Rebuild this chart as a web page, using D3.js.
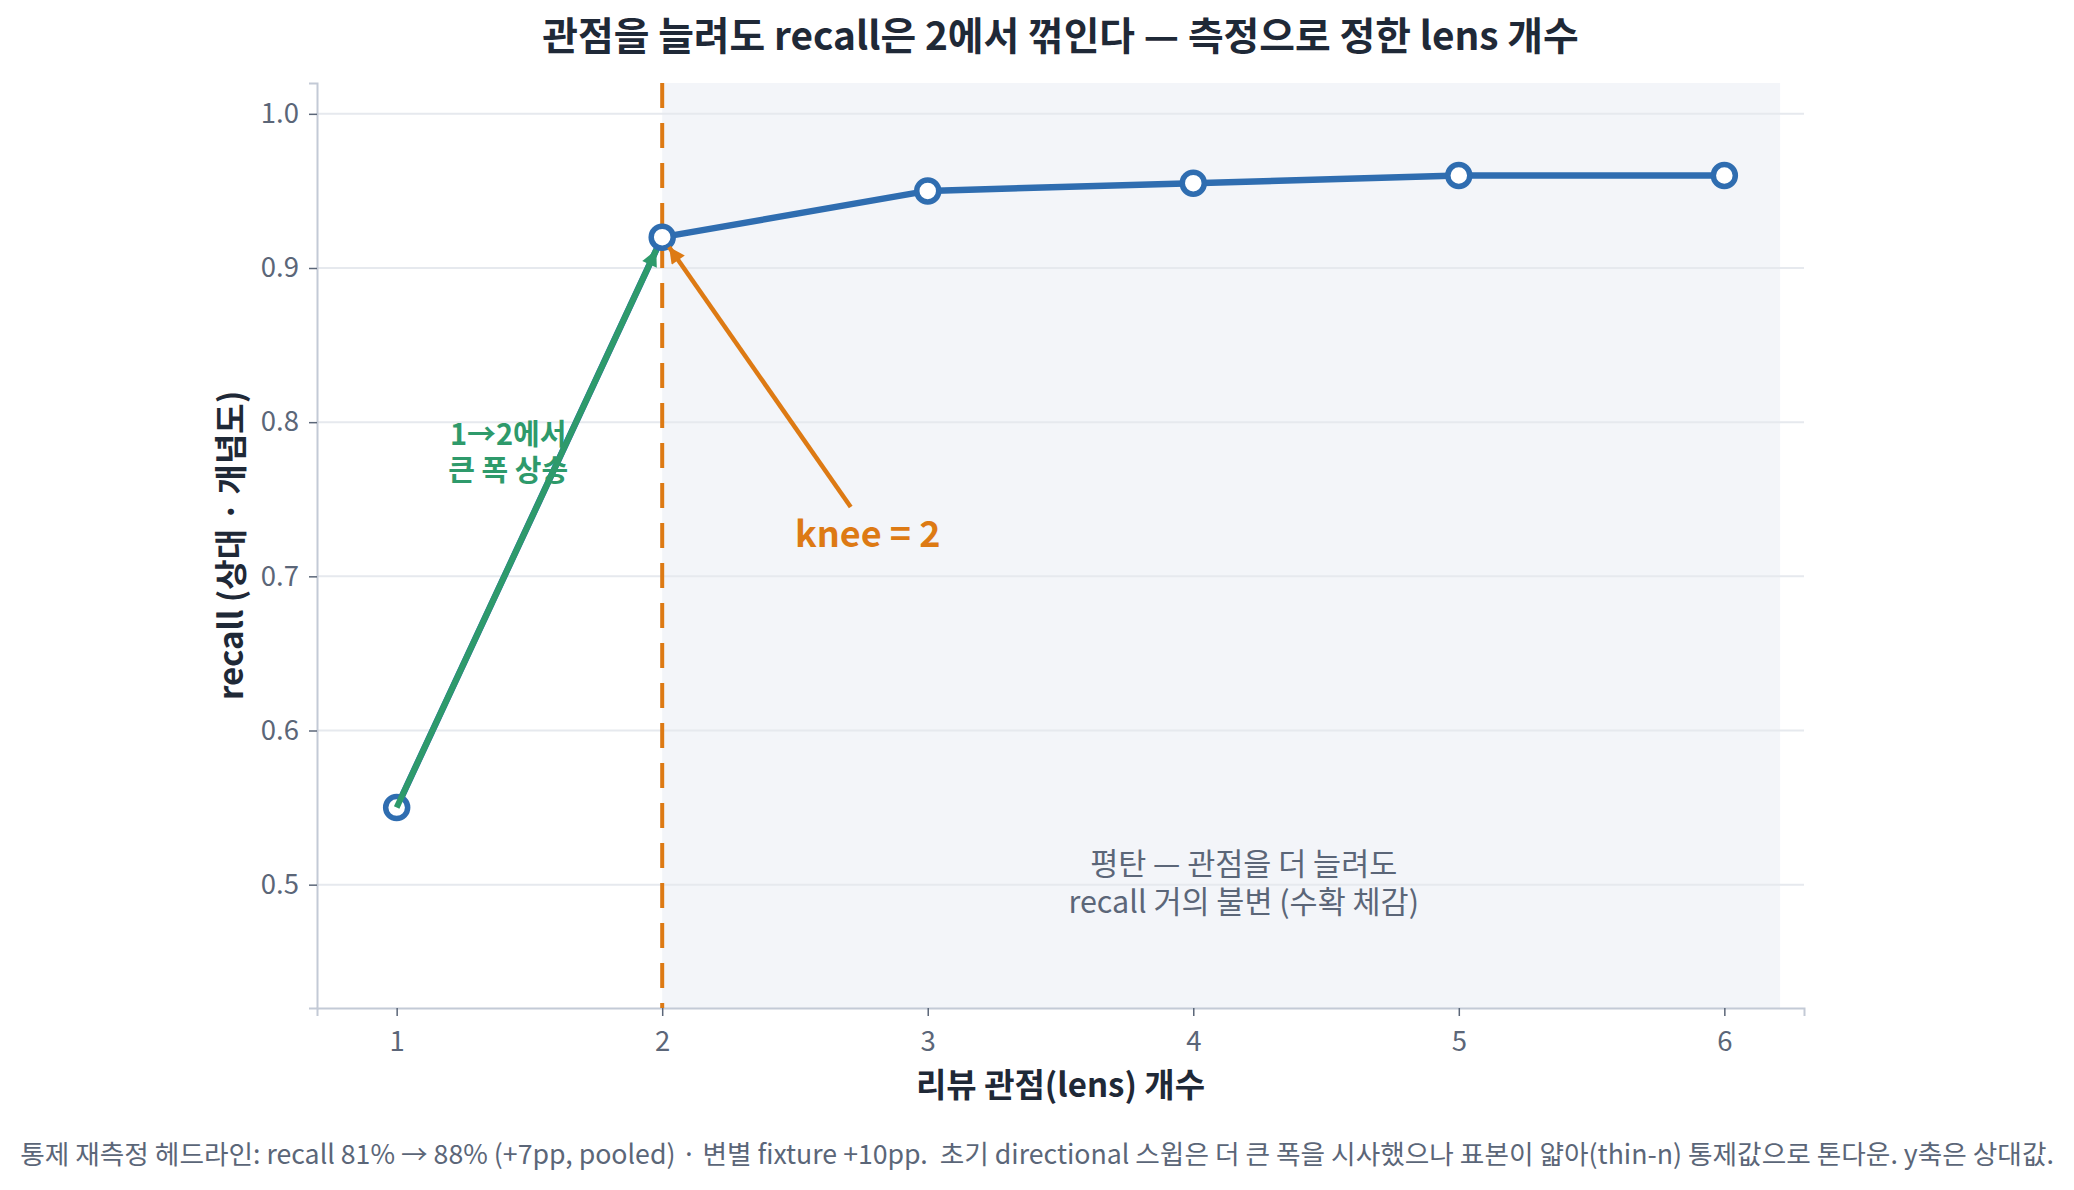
<!DOCTYPE html>
<html>
<head>
<meta charset="utf-8">
<script src="https://cdn.jsdelivr.net/npm/d3@7"></script>
<style>
  body { margin: 0; background: #fff; }
  svg text { font-family: "Noto Sans CJK KR", "Noto Sans", sans-serif; white-space: pre; }
</style>
</head>
<body>
<div class="chart"></div>
<script>
// data
var lensCounts = [1, 2, 3, 4, 5, 6];
var recallValues = [0.55, 0.92, 0.95, 0.955, 0.96, 0.96];
var yTicks = [0.5, 0.6, 0.7, 0.8, 0.9, 1.0];
var kneeAt = 2;

var W = 2074, H = 1190;
var margin = {top: 83, right: 270, bottom: 182, left: 317};

var svg = d3.select(".chart").append("svg")
    .attr("width", W)
    .attr("height", H);

var x = d3.scaleLinear().domain([0.7, 6.3]).range([margin.left, W - margin.right]);
var y = d3.scaleLinear().domain([0.42, 1.02]).range([H - margin.bottom, margin.top]);

var defs = svg.append("defs");
function head(id, color) {
  defs.append("marker")
      .attr("id", id)
      .attr("viewBox", "0 0 10 10")
      .attr("refX", 10)
      .attr("refY", 5)
      .attr("markerUnits", "userSpaceOnUse")
      .attr("markerWidth", 21)
      .attr("markerHeight", 16)
      .attr("orient", "auto")
    .append("path")
      .attr("d", "M0,0 L10,5 L0,10 Z")
      .attr("fill", color);
}
head("headGreen", "#2e9a6b");
head("headOrange", "#dd7a14");

// plateau shading
svg.append("rect")
    .attr("x", x(kneeAt))
    .attr("y", y(1.02))
    .attr("width", x(6.21) - x(kneeAt))
    .attr("height", y(0.42) - y(1.02))
    .attr("fill", "#f3f5f9");

// grid
svg.append("g").selectAll("line")
    .data(yTicks)
  .enter().append("line")
    .attr("x1", x(0.7))
    .attr("x2", x(6.3))
    .attr("y1", function(d){ return y(d); })
    .attr("y2", function(d){ return y(d); })
    .attr("stroke", "#e6e9ee")
    .attr("stroke-width", 2);

// axes
var xAxis = svg.append("g")
    .attr("transform", "translate(0," + y(0.42) + ")")
    .call(d3.axisBottom(x).tickValues(lensCounts).tickFormat(d3.format("d")).tickSize(8).tickPadding(15));
var yAxis = svg.append("g")
    .attr("transform", "translate(" + x(0.7) + ",0)")
    .call(d3.axisLeft(y).tickValues(yTicks).tickFormat(d3.format(".1f")).tickSize(8).tickPadding(10));

[xAxis, yAxis].forEach(function(g){
  g.select(".domain").attr("stroke", "#c3cad6").attr("stroke-width", 2);
  g.selectAll(".tick line").attr("stroke", "#5b6678").attr("stroke-width", 1.5);
  g.selectAll(".tick text")
      .attr("fill", "#5b6678")
      .style("font-size", "27.5px");
});

// knee line
svg.append("line")
    .attr("x1", x(kneeAt))
    .attr("x2", x(kneeAt))
    .attr("y1", y(1.02))
    .attr("y2", y(0.42))
    .attr("stroke", "#dd7a14")
    .attr("stroke-width", 4)
    .attr("stroke-dasharray", "25,15");

// recall line
var pts = lensCounts.map(function(d, i){ return [d, recallValues[i]]; });
svg.append("path")
    .datum(pts)
    .attr("fill", "none")
    .attr("stroke", "#2f6db0")
    .attr("stroke-width", 6.5)
    .attr("stroke-linejoin", "round")
    .attr("d", d3.line().x(function(d){ return x(d[0]); }).y(function(d){ return y(d[1]); }));

svg.append("g").selectAll("circle")
    .data(pts)
  .enter().append("circle")
    .attr("cx", function(d){ return x(d[0]); })
    .attr("cy", function(d){ return y(d[1]); })
    .attr("r", 11)
    .attr("fill", "#fff")
    .attr("stroke", "#2f6db0")
    .attr("stroke-width", 5.5);

// arrow helper: pull the end back from the target point
function arrow(x0, y0, x1, y1, shrink, color, id, w) {
  var px0 = x(x0), py0 = y(y0), px1 = x(x1), py1 = y(y1);
  var dx = px1 - px0, dy = py1 - py0, len = Math.sqrt(dx*dx + dy*dy);
  svg.append("line")
      .attr("x1", px0)
      .attr("y1", py0)
      .attr("x2", px1 - dx / len * shrink)
      .attr("y2", py1 - dy / len * shrink)
      .attr("stroke", color)
      .attr("stroke-width", w)
      .attr("marker-end", "url(#" + id + ")");
}
arrow(lensCounts[0], recallValues[0], lensCounts[1], recallValues[1], 14, "#2e9a6b", "headGreen", 6);
arrow(2.71, 0.745, lensCounts[1], recallValues[1], 12, "#dd7a14", "headOrange", 4.5);

// annotations
svg.append("text")
    .attr("text-anchor", "middle")
    .attr("fill", "#2e9a6b")
    .style("font-size", "29px")
    .style("font-weight", "bold")
    .selectAll("tspan")
    .data(["1→2에서", "큰 폭 상승"])
  .enter().append("tspan")
    .attr("x", x(1.42))
    .attr("y", function(d, i){ return y(0.781) - 17 + i * 36; })
    .attr("dy", "0.35em")
    .text(function(d){ return d; });

svg.append("text")
    .attr("x", x(2.5))
    .attr("y", y(0.727))
    .attr("dy", "0.35em")
    .attr("fill", "#dd7a14")
    .style("font-size", "36px")
    .style("font-weight", "bold")
    .text("knee = 2");

svg.append("text")
    .attr("text-anchor", "middle")
    .attr("fill", "#5b6678")
    .style("font-size", "30.5px")
    .selectAll("tspan")
    .data(["평탄 — 관점을 더 늘려도", "recall 거의 불변 (수확 체감)"])
  .enter().append("tspan")
    .attr("x", x(4.19))
    .attr("y", function(d, i){ return 864 + i * 38; })
    .attr("dy", "0.35em")
    .text(function(d){ return d; });

// titles
svg.append("text")
    .attr("x", (x(0.7) + x(6.3)) / 2)
    .attr("y", 36)
    .attr("dy", "0.35em")
    .attr("text-anchor", "middle")
    .attr("fill", "#1f2937")
    .style("font-size", "38.8px")
    .style("font-weight", "bold")
    .text("관점을 늘려도 recall은 2에서 꺾인다 — 측정으로 정한 lens 개수");

svg.append("text")
    .attr("x", (x(0.7) + x(6.3)) / 2)
    .attr("y", 1085)
    .attr("dy", "0.35em")
    .attr("text-anchor", "middle")
    .attr("fill", "#1f2937")
    .style("font-size", "33px")
    .style("font-weight", "bold")
    .text("리뷰 관점(lens) 개수");

svg.append("text")
    .attr("transform", "translate(231," + (y(0.42) + y(1.02)) / 2 + ") rotate(-90)")
    .attr("dy", "0.35em")
    .attr("text-anchor", "middle")
    .attr("fill", "#1f2937")
    .style("font-size", "33px")
    .style("font-weight", "bold")
    .text("recall (상대 · 개념도)");

svg.append("text")
    .attr("x", 1037)
    .attr("y", 1155)
    .attr("dy", "0.35em")
    .attr("text-anchor", "middle")
    .attr("fill", "#5b6678")
    .style("font-size", "26.7px")
    .text("통제 재측정 헤드라인: recall 81% → 88% (+7pp, pooled) · 변별 fixture +10pp.  초기 directional 스윕은 더 큰 폭을 시사했으나 표본이 얇아(thin-n) 통제값으로 톤다운. y축은 상대값.");
</script>
</body>
</html>
